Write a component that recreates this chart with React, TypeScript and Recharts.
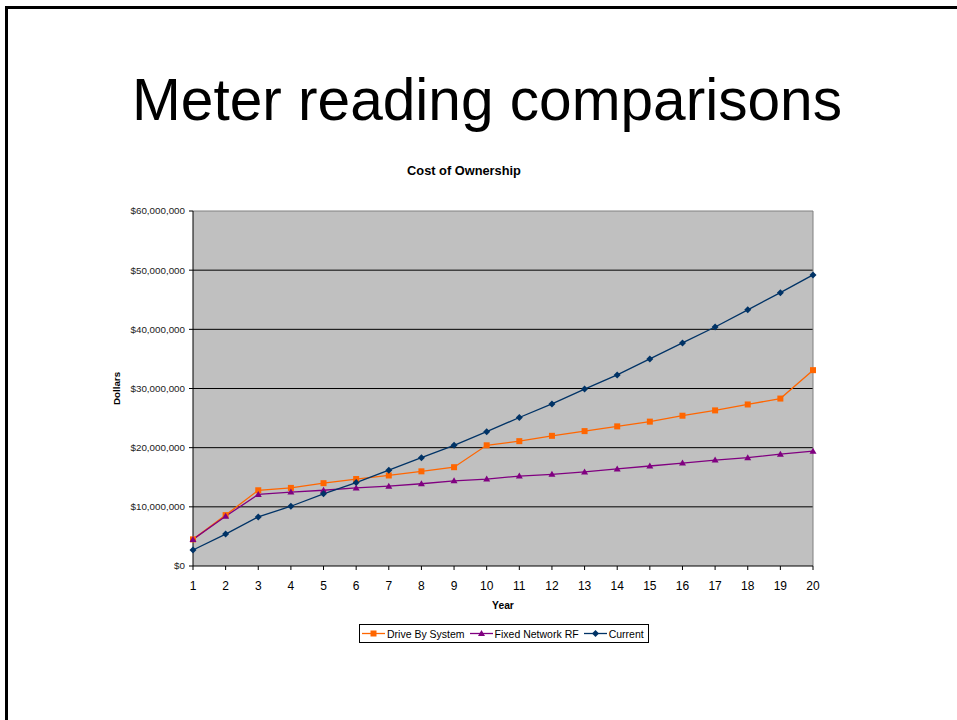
import React from "react";
import { LineChart, Line, XAxis, YAxis, CartesianGrid, Legend, ReferenceLine } from "recharts";

// Cumulative cost of ownership per year, in dollars
const years = ["1", "2", "3", "4", "5", "6", "7", "8", "9", "10", "11", "12", "13", "14", "15", "16", "17", "18", "19", "20"];
const driveBySystem = [
  4500000, 8600000, 12800000, 13200000, 14000000, 14700000, 15300000, 16000000, 16700000, 20400000,
  21100000, 22000000, 22800000, 23600000, 24400000, 25400000, 26300000, 27300000, 28300000, 33100000,
];
const fixedNetworkRF = [
  4500000, 8400000, 12100000, 12500000, 12800000, 13200000, 13500000, 13900000, 14400000, 14700000,
  15200000, 15500000, 15900000, 16400000, 16900000, 17400000, 17900000, 18300000, 18900000, 19400000,
];
const current = [
  2700000, 5400000, 8300000, 10100000, 12200000, 14100000, 16200000, 18300000, 20400000, 22700000,
  25100000, 27400000, 29900000, 32300000, 35000000, 37700000, 40400000, 43300000, 46200000, 49200000,
];
const yTicks = [0, 10000000, 20000000, 30000000, 40000000, 50000000, 60000000];

const data = years.map((year, i) => ({
  year,
  driveBy: driveBySystem[i],
  fixedRF: fixedNetworkRF[i],
  current: current[i],
}));

const FONT = '"Liberation Sans", Arial, sans-serif';
const ORANGE = "#FF6600";
const PURPLE = "#800080";
const NAVY = "#003366";

type Shape = "square" | "triangle" | "diamond";

const series: { key: string; name: string; color: string; shape: Shape }[] = [
  { key: "driveBy", name: "Drive By System", color: ORANGE, shape: "square" },
  { key: "fixedRF", name: "Fixed Network RF", color: PURPLE, shape: "triangle" },
  { key: "current", name: "Current", color: NAVY, shape: "diamond" },
];

function marker(shape: Shape, cx: number, cy: number, color: string, key?: string) {
  if (shape === "square") {
    return <rect key={key} x={cx - 3} y={cy - 3} width={6} height={6} fill={color} />;
  }
  if (shape === "triangle") {
    return <polygon key={key} points={`${cx},${cy - 3.5} ${cx + 3.5},${cy + 2.5} ${cx - 3.5},${cy + 2.5}`} fill={color} />;
  }
  return <polygon key={key} points={`${cx},${cy - 3.5} ${cx + 3.5},${cy} ${cx},${cy + 3.5} ${cx - 3.5},${cy}`} fill={color} />;
}

const makeDot = (shape: Shape, color: string) => (props: any) =>
  marker(shape, props.cx, props.cy, color, `${shape}-${props.index}`);

const formatDollars = (v: number) => "$" + v.toLocaleString("en-US");

function LegendBox() {
  return (
    <div
      style={{
        display: "inline-flex",
        alignItems: "center",
        height: 19,
        boxSizing: "border-box",
        border: "1px solid #000",
        background: "#fff",
        padding: "0 4px 0 2px",
        fontFamily: FONT,
        fontSize: 10.5,
        color: "#000",
        whiteSpace: "nowrap",
      }}
    >
      {series.map((s, i) => (
        <span key={s.key} style={{ display: "inline-flex", alignItems: "center", marginLeft: i === 0 ? 0 : 5 }}>
          <svg width={23} height={9} style={{ marginRight: 2 }}>
            <line x1={0} y1={4.5} x2={23} y2={4.5} stroke={s.color} strokeWidth={1.3} />
            {marker(s.shape, 11.5, 4.5, s.color)}
          </svg>
          {s.name}
        </span>
      ))}
    </div>
  );
}

export default function App() {
  return (
    <div style={{ position: "absolute", left: 0, top: 0, width: 957, height: 720, background: "#fff", overflow: "hidden" }}>
      {/* slide frame */}
      <div style={{ position: "absolute", left: 5, top: 6, right: 0, height: 3, background: "#000" }} />
      <div style={{ position: "absolute", left: 5, top: 6, width: 3, bottom: 0, background: "#000" }} />

      <div
        style={{
          position: "absolute",
          left: 132,
          top: 71,
          fontFamily: FONT,
          fontSize: 58.6,
          lineHeight: 1,
          whiteSpace: "nowrap",
          color: "#000",
        }}
      >
        Meter reading comparisons
      </div>
      <div
        style={{
          position: "absolute",
          left: 0,
          width: 928,
          top: 165,
          textAlign: "center",
          fontFamily: FONT,
          fontSize: 12.8,
          fontWeight: "bold",
          lineHeight: 1,
          color: "#000",
        }}
      >
        Cost of Ownership
      </div>

      <div style={{ position: "absolute", left: 0, top: 0 }}>
        <LineChart
          width={957}
          height={720}
          data={data}
          margin={{ top: 211, right: 144, bottom: 124, left: 133 }}
          style={{ fontFamily: FONT }}
        >
          <CartesianGrid
            vertical={false}
            fill="#C0C0C0"
            fillOpacity={1}
            stroke="#000"
            strokeOpacity={1}
            horizontalValues={[10000000, 20000000, 30000000, 40000000, 50000000]}
          />
          <XAxis
            dataKey="year"
            height={30}
            axisLine={{ stroke: "#000" }}
            tickLine={{ stroke: "#000" }}
            tickSize={4}
            tickMargin={11}
            tick={{ fill: "#000", fontSize: 12 }}
            interval={0}
            label={(props: any) => {
              const vb = props.viewBox;
              return (
                <text x={vb.x + vb.width / 2} y={vb.y + 43} textAnchor="middle" fontSize={10.3} fontWeight="bold" fill="#000">
                  Year
                </text>
              );
            }}
          />
          <YAxis
            width={60}
            domain={[0, 60000000]}
            ticks={yTicks}
            interval={0}
            tickFormatter={formatDollars}
            axisLine={{ stroke: "#000" }}
            tickLine={{ stroke: "#000" }}
            tickSize={4}
            tickMargin={4}
            tick={{ fill: "#222", fontSize: 9.8 }}
            label={(props: any) => {
              const vb = props.viewBox;
              const cx = vb.x - 17;
              const cy = vb.y + vb.height / 2;
              return (
                <text
                  x={cx}
                  y={cy}
                  textAnchor="middle"
                  dominantBaseline="central"
                  transform={`rotate(-90 ${cx} ${cy})`}
                  fontSize={9.8}
                  fontWeight="bold"
                  fill="#000"
                >
                  Dollars
                </text>
              );
            }}
          />
          <ReferenceLine y={60000000} stroke="#808080" strokeWidth={1} />
          <ReferenceLine x="20" stroke="#808080" strokeWidth={1} />
          {series.map((s) => (
            <Line
              key={s.key}
              type="linear"
              dataKey={s.key}
              name={s.name}
              stroke={s.color}
              strokeWidth={1.3}
              dot={makeDot(s.shape, s.color)}
              activeDot={false}
              isAnimationActive={false}
            />
          ))}
          <Legend
            layout="horizontal"
            align="center"
            verticalAlign="middle"
            wrapperStyle={{ top: 624, left: 359, width: "auto", lineHeight: 0 }}
            content={() => <LegendBox />}
          />
        </LineChart>
      </div>
    </div>
  );
}
